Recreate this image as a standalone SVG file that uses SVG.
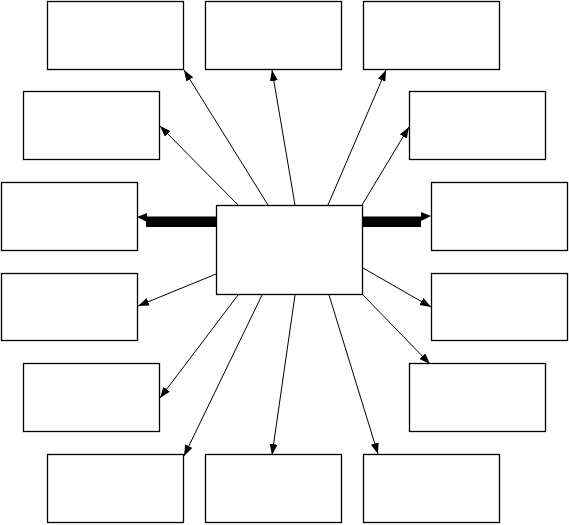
<svg xmlns="http://www.w3.org/2000/svg" width="569" height="525" viewBox="0 0 569 525">
<style>
.box{fill:#fff;stroke:#000;stroke-width:1.3}
.ln{fill:none;stroke:#000;stroke-width:1;marker-end:url(#ah)}
.thick{fill:#000;stroke:none}
</style>
<defs>
<marker id="ah" markerUnits="userSpaceOnUse" markerWidth="12" markerHeight="9" refX="11" refY="4" orient="auto">
<path d="M0,0 L11,4 L0,8 z" fill="#000"/>
</marker>
</defs>
<rect width="569" height="525" fill="#fff"/>
<g id="connectors">
<line class="ln" x1="268" y1="205" x2="184" y2="70"/>
<line class="ln" x1="295" y1="205" x2="272" y2="70"/>
<line class="ln" x1="328" y1="205" x2="386" y2="70"/>
<line class="ln" x1="238" y1="205" x2="160" y2="126"/>
<line class="ln" x1="362" y1="205" x2="409" y2="127"/>
<line class="ln" x1="216" y1="274" x2="138" y2="306"/>
<line class="ln" x1="363" y1="268" x2="431" y2="307"/>
<line class="ln" x1="238" y1="295" x2="160" y2="398"/>
<line class="ln" x1="262" y1="295" x2="184" y2="456"/>
<line class="ln" x1="295" y1="295" x2="272" y2="455"/>
<line class="ln" x1="329" y1="295" x2="378" y2="454"/>
<line class="ln" x1="363" y1="295" x2="430" y2="364"/>
<rect class="thick" x="146" y="216.5" width="70" height="10.5"/>
<polygon class="thick" points="137,217 147,213 147,222"/>
<rect class="thick" x="363" y="216.5" width="58" height="10.5"/>
<polygon class="thick" points="431,216 421,212 421,221"/>
</g>
<g id="center"><rect class="box" x="216.5" y="205.5" width="146" height="89"/></g>
<g id="n1"><rect class="box" x="47.5" y="1.5" width="136" height="68"/></g>
<g id="n2"><rect class="box" x="205.5" y="1.5" width="136" height="68"/></g>
<g id="n3"><rect class="box" x="363.5" y="1.5" width="136" height="68"/></g>
<g id="n4"><rect class="box" x="23.5" y="91.5" width="136" height="68"/></g>
<g id="n5"><rect class="box" x="409.5" y="91.5" width="136" height="68"/></g>
<g id="n6"><rect class="box" x="1.5" y="182.5" width="136" height="68"/></g>
<g id="n7"><rect class="box" x="431.5" y="182.5" width="136" height="68"/></g>
<g id="n8"><rect class="box" x="1.5" y="273.5" width="136" height="67"/></g>
<g id="n9"><rect class="box" x="431.5" y="273.5" width="136" height="67"/></g>
<g id="n10"><rect class="box" x="23.5" y="363.5" width="136" height="68"/></g>
<g id="n11"><rect class="box" x="409.5" y="363.5" width="136" height="68"/></g>
<g id="n12"><rect class="box" x="47.5" y="454.5" width="136" height="68"/></g>
<g id="n13"><rect class="box" x="205.5" y="454.5" width="136" height="68"/></g>
<g id="n14"><rect class="box" x="363.5" y="454.5" width="136" height="68"/></g>
</svg>
